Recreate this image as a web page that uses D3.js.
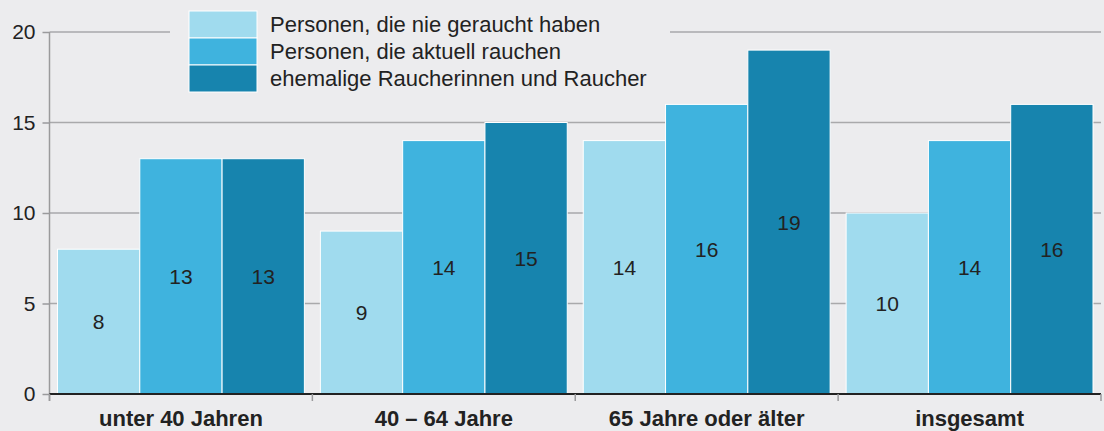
<!DOCTYPE html>
<html>
<head>
<meta charset="utf-8">
<script src="https://cdn.jsdelivr.net/npm/d3@7"></script>
<style>
  html, body { margin: 0; padding: 0; background: #ececee; }
  svg { display: block; font-family: "Liberation Sans", Arial, sans-serif; }
</style>
</head>
<body>
<div id="chart"></div>
<script>
// chart data
const categories = ["unter 40 Jahren", "40 – 64 Jahre", "65 Jahre oder älter", "insgesamt"];
const seriesNames = [
  "Personen, die nie geraucht haben",
  "Personen, die aktuell rauchen",
  "ehemalige Raucherinnen und Raucher"
];
const neverSmoked = [8, 9, 14, 10];
const currentSmokers = [13, 14, 16, 14];
const formerSmokers = [13, 15, 19, 16];
const yTicks = [0, 5, 10, 15, 20];

const colors = ["#a0dbee", "#3fb3de", "#1784ae"];
const seriesValues = [neverSmoked, currentSmokers, formerSmokers];

const width = 1104;
const height = 431;
const marginLeft = 49.5;
const plotRight = 1101;
const plotTop = 32;
const plotBottom = 394;

const svg = d3.select("#chart").append("svg").attr("width", width).attr("height", height);

svg.append("rect").attr("width", width).attr("height", height).attr("fill", "#ececee");

const y = d3.scaleLinear().domain([0, 20]).range([plotBottom, plotTop]);
const x0 = d3.scaleBand().domain(categories).range([marginLeft, plotRight]);
const x1 = d3.scaleBand().domain(d3.range(seriesNames.length)).range([8, x0.bandwidth() - 8]);

// gridlines
svg.append("g")
  .selectAll("line")
  .data(yTicks.filter((d) => d > 0))
  .join("line")
  .attr("x1", marginLeft)
  .attr("x2", plotRight)
  .attr("y1", (d) => y(d))
  .attr("y2", (d) => y(d))
  .attr("stroke", "#a9a9ab")
  .attr("stroke-width", 1.5);

// y axis line
svg.append("line")
  .attr("x1", marginLeft).attr("x2", marginLeft)
  .attr("y1", plotTop).attr("y2", plotBottom + 7)
  .attr("stroke", "#9a9a9c")
  .attr("stroke-width", 1.5);

// y ticks + labels
const yAxis = svg.append("g").attr("transform", `translate(${marginLeft},0)`)
  .call(d3.axisLeft(y).tickValues(yTicks).tickSize(7).tickPadding(7));
yAxis.select(".domain").remove();
yAxis.selectAll(".tick line").attr("stroke", "#9a9a9c").attr("stroke-width", 1.5);
yAxis.selectAll(".tick text")
  .attr("fill", "#222")
  .style("font-size", "21px")
  .style("font-family", "'Liberation Sans', Arial, sans-serif");

// bars
const rows = [];
categories.forEach((c, i) => {
  seriesValues.forEach((vals, s) => rows.push({ c, s, v: vals[i] }));
});

const bars = svg.append("g");
bars.selectAll("rect")
  .data(rows)
  .join("rect")
  .attr("x", (d) => x0(d.c) + x1(d.s))
  .attr("width", x1.bandwidth())
  .attr("y", (d) => y(d.v))
  .attr("height", (d) => y(0) - y(d.v))
  .attr("fill", (d) => colors[d.s])
  .attr("stroke", "#fff")
  .attr("stroke-width", 1);

bars.selectAll("text")
  .data(rows)
  .join("text")
  .attr("x", (d) => x0(d.c) + x1(d.s) + x1.bandwidth() / 2)
  .attr("y", (d) => (y(d.v) + y(0)) / 2)
  .attr("dy", "0.36em")
  .attr("text-anchor", "middle")
  .attr("fill", "#222")
  .style("font-size", "21px")
  .text((d) => d.v);

// baseline
svg.append("line")
  .attr("x1", marginLeft).attr("x2", plotRight)
  .attr("y1", y(0)).attr("y2", y(0))
  .attr("stroke", "#222")
  .attr("stroke-width", 2);

// x group ticks at band edges
svg.append("g")
  .selectAll("line")
  .data(categories.map((c) => x0(c)).concat([plotRight]))
  .join("line")
  .attr("x1", (d) => d).attr("x2", (d) => d)
  .attr("y1", y(0)).attr("y2", y(0) + 7)
  .attr("stroke", "#9a9a9c")
  .attr("stroke-width", 1.5);

// category labels (nudged up a bit so descenders stay inside the picture)
svg.append("g")
  .selectAll("text")
  .data(categories)
  .join("text")
  .attr("x", (d) => x0(d) + x0.bandwidth() / 2)
  .attr("y", 425.5)
  .attr("text-anchor", "middle")
  .attr("fill", "#222")
  .style("font-size", "22px")
  .style("font-weight", "bold")
  .text((d) => d);

// legend (covers the top gridline)
const legend = svg.append("g");
legend.append("rect")
  .attr("x", 170).attr("y", 0)
  .attr("width", 500).attr("height", 100)
  .attr("fill", "#ececee");

const items = legend.selectAll("g")
  .data(seriesNames)
  .join("g")
  .attr("transform", (d, i) => `translate(189,${11 + i * 27})`);

items.append("rect")
  .attr("width", 68)
  .attr("height", 27)
  .attr("fill", (d, i) => colors[i])
  .attr("stroke", "#fff")
  .attr("stroke-width", 1);

items.append("text")
  .attr("x", 81)
  .attr("y", 13.5)
  .attr("dy", "0.36em")
  .attr("fill", "#222")
  .style("font-size", "22px")
  .text((d) => d);
</script>
</body>
</html>
